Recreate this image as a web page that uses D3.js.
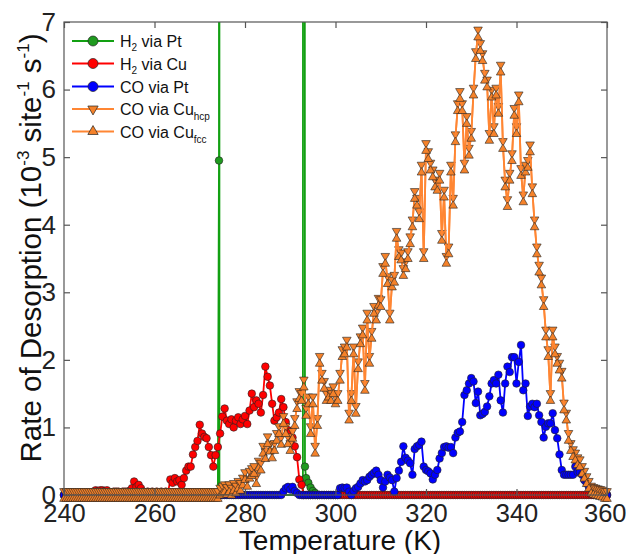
<!DOCTYPE html>
<html><head><meta charset="utf-8">
<script src="https://cdn.jsdelivr.net/npm/d3@7"></script>
<style>body{margin:0;background:#fff;} svg{display:block;font-family:Arial,"Liberation Sans",sans-serif;}</style>
</head><body><svg id="c" width="626" height="554"></svg>
<script>
// Temperature grid (K)
const temperature = [
240,240.5,241,241.5,242,242.5,243,243.5,244,244.5,
245,245.5,246,246.5,247,247.5,248,248.5,249,249.5,
250,250.5,251,251.5,252,252.5,253,253.5,254,254.5,
255,255.5,256,256.5,257,257.5,258,258.5,259,259.5,
260,260.5,261,261.5,262,262.5,263,263.5,264,264.5,
265,265.5,266,266.5,267,267.5,268,268.5,269,269.5,
270,270.5,271,271.5,272,272.5,273,273.5,274,274.5,
275,275.5,276,276.5,277,277.5,278,278.5,279,279.5,
280,280.5,281,281.5,282,282.5,283,283.5,284,284.5,
285,285.5,286,286.5,287,287.5,288,288.5,289,289.5,
290,290.5,291,291.5,292,292.5,293,293.5,294,294.5,
295,295.5,296,296.5,297,297.5,298,298.5,299,299.5,
300,300.5,301,301.5,302,302.5,303,303.5,304,304.5,
305,305.5,306,306.5,307,307.5,308,308.5,309,309.5,
310,310.5,311,311.5,312,312.5,313,313.5,314,314.5,
315,315.5,316,316.5,317,317.5,318,318.5,319,319.5,
320,320.5,321,321.5,322,322.5,323,323.5,324,324.5,
325,325.5,326,326.5,327,327.5,328,328.5,329,329.5,
330,330.5,331,331.5,332,332.5,333,333.5,334,334.5,
335,335.5,336,336.5,337,337.5,338,338.5,339,339.5,
340,340.5,341,341.5,342,342.5,343,343.5,344,344.5,
345,345.5,346,346.5,347,347.5,348,348.5,349,349.5,
350,350.5,351,351.5,352,352.5,353,353.5,354,354.5,
355,355.5,356,356.5,357,357.5,358,358.5,359,359.5,
360];

// H2 via Cu
const h2ViaCu = [
0,0,0,0,0,0,0,0,0,0,
0,0,0,0.05,0.07,0.06,0.07,0.07,0.06,0.07,
0,0.02,0.05,0.05,0.05,0.04,0.05,0.05,0.05,0.06,
0.1,0.2,0.12,0.15,0.1,0.05,0.04,0.05,0.04,0.05,
0.04,0.05,0.04,0.05,0.04,0.05,0.04,0.23,0.18,0.25,
0.2,0.22,0.15,0.25,0.36,0.42,0.42,0.6,0.71,0.8,
1.04,0.91,0.86,0.84,0.71,0.59,0.42,0.59,0.71,0.91,
1.16,1.28,1.1,1.05,1.12,1.0,1.1,1.15,1.05,1.12,
1.17,1.05,1.25,1.5,1.3,1.4,1.35,1.22,1.48,1.9,
1.75,1.62,1.35,1.1,1.15,1.22,1.42,1.3,1.08,0.96,
0.92,0.85,0.72,0.56,0.23,0.15,0,0,0,0,
0,0,0,0,0,0,0,0,0,0,
0,0,0,0,0,0,0,0,0,0,
0,0,0,0,0,0,0,0,0,0,
0,0,0,0,0,0,0,0,0,0,
0,0,0,0,0,0,0,0,0,0,
0,0,0,0,0,0,0,0,0,0,
0,0,0,0,0,0,0,0,0,0,
0,0,0,0,0,0,0,0,0,0,
0,0,0,0,0,0,0,0,0,0,
0,0,0,0,0,0,0,0,0,0,
0,0,0,0,0,0,0,0,0,0,
0,0,0,0,0,0,0,0,0,0,
0,0,0,0,0,0,0,0,0,0,
0];

// CO via Pt
const coViaPt = [
0,0,0,0,0,0,0,0,0,0,
0,0,0,0,0,0,0,0,0,0,
0,0,0,0,0,0,0,0,0,0,
0,0,0,0,0,0,0,0,0,0,
0,0,0,0,0,0,0,0,0,0,
0,0,0,0,0,0,0,0,0,0,
0,0,0,0,0,0,0,0,0,0,
0,0,0,0,0,0,0,0,0,0,
0,0,0,0,0,0,0,0,0,0,
0,0,0,0,0,0,0,0.05,0.1,0.12,
0.08,0.12,0.06,0.03,0,0,0,0,0,0,
0,0,0,0,0,0,0,0,0,0,
0,0,0.1,0.11,0.1,0.11,0.05,0,0.06,0.1,
0.12,0.17,0.22,0.2,0.22,0.27,0.3,0.33,0.36,0.3,
0.22,0.11,0.2,0.3,0.26,0.22,0.05,0.25,0.36,0.49,
0.72,0.55,0.51,0.47,0.3,0.68,0.72,0.74,0.79,0.42,
0.37,0.35,0.32,0.23,0.3,0.37,0.54,0.62,0.71,0.72,
0.7,0.71,0.62,0.85,0.92,0.94,1.08,1.48,1.55,1.65,
1.73,1.68,1.36,1.53,1.18,1.2,1.23,1.31,1.46,1.65,
1.7,1.65,1.78,1.4,1.22,1.65,1.9,1.82,2.04,2.04,
1.65,1.97,2.22,1.55,1.65,1.17,1.31,1.35,1.3,1.35,
1.18,1.08,0.85,1.01,1.06,1.06,1.21,0.96,0.84,0.6,
0.37,0.3,0.3,0.3,0.3,0.3,0.42,0.34,0.34,0.3,
0.22,0.17,0.12,0.1,0.05,0,0,0,0,0,
0];

// CO via Cu (hcp); the fcc curve coincides with it in the figure
const coViaCuHcp = [
0,0,0,0,0,0,0,0,0,0,
0,0,0,0,0,0,0,0,0,0,
0,0,0,0,0,0,0,0,0,0,
0,0,0,0,0,0,0,0,0,0,
0,0,0,0,0,0,0,0,0,0,
0,0,0,0,0,0,0,0,0,0,
0,0,0,0,0,0,0,0,0,0.05,
0.08,0.1,0.06,0.1,0.05,0.12,0.08,0.15,0.12,0.2,
0.28,0.18,0.3,0.34,0.37,0.22,0.45,0.42,0.67,0.59,
0.81,0.7,0.6,0.71,0.86,0.96,0.8,1.11,0.96,0.81,
0.71,0.89,1.08,1.33,1.48,1.45,1.65,1.23,1.4,0.96,
1.4,0.67,1.08,2.0,1.75,1.63,1.45,1.5,1.45,1.55,
1.4,1.45,1.75,2.1,2.14,2.24,1.16,1.45,2.14,1.26,
1.92,2.29,2.42,1.6,2.64,2.0,2.37,2.74,2.64,2.86,
2.84,3.33,3.48,3.18,2.64,3.13,3.2,3.85,3.58,3.53,
3.3,3.4,3.55,3.77,4.02,4.44,4.34,4.14,4.83,3.55,
5.15,5.03,4.86,4.76,4.61,4.56,4.71,3.82,4.46,3.48,
3.62,4.83,4.34,5.28,5.74,5.92,5.74,4.86,5.55,5.08,
5.33,5.97,6.51,6.83,6.63,6.48,6.19,6.09,5.3,5.94,
5.4,5.97,5.7,6.31,5.18,4.61,4.32,4.71,5.0,5.67,
5.4,5.87,4.78,4.39,4.83,4.9,5.13,4.51,4.02,3.62,
3.35,3.16,2.84,2.39,2.1,1.45,2.39,2.14,2.0,1.9,
1.78,1.31,1.16,0.86,0.71,0.62,0.57,0.5,0.47,0.37,
0.3,0.22,0.15,0.08,0.06,0.05,0.04,0.03,0.02,0,
0];
const coViaCuFcc = coViaCuHcp;

// H2 via Pt (sparse: two spikes that run off the top of the axes)
const h2PtTemperature = [240,274,274.25,274.3,274.35,292.8,292.9,293.25,293.5,294,294.5,295,295.5,296,360];
const h2ViaPt = [0,0,4.95,80,0,0,80,0.42,0.25,0.18,0.11,0.06,0.03,0,0];

const xTicks = [240,260,280,300,320,340,360];
const yTicks = [0,1,2,3,4,5,6,7];
const legendLabels = ["H2 via Pt","H2 via Cu","CO via Pt","CO via Cu hcp","CO via Cu fcc"];

const svg = d3.select("#c");
const L=64,R=607,T=22,B=495;
const x = d3.scaleLinear().domain([240,360]).range([L,R]);
const y = d3.scaleLinear().domain([0,7]).range([B,T]);

const defs = svg.append("defs");
defs.append("clipPath").attr("id","clipL")
  .append("rect").attr("x",L-6).attr("y",T).attr("width",R-L+12).attr("height",B-T+8);
defs.append("clipPath").attr("id","clipM")
  .append("rect").attr("x",L-8).attr("y",T-8).attr("width",R-L+16).attr("height",B-T+16);

const series = [
  {t:h2PtTemperature, v:h2ViaPt, line:"#12a012", fill:"#1f9a1f", shape:"circle"},
  {t:temperature, v:h2ViaCu, line:"#ff0000", fill:"#ff0000", shape:"circle"},
  {t:temperature, v:coViaPt, line:"#0000ff", fill:"#0000ff", shape:"circle"},
  {t:temperature, v:coViaCuHcp, line:"#ff8633", fill:"#f5822a", shape:"down"},
  {t:temperature, v:coViaCuFcc, line:"#ff8633", fill:"#f5822a", shape:"up"}
];

const lineGen = d3.line().x(d=>x(d[0])).y(d=>y(d[1]));
// data-marker triangles: tips meet at the data point (hourglass look when both overlap)
const triUpData = "M0,-1L4.3,6.4L-4.3,6.4Z";
const triDownData = "M0,1L4.3,-6.4L-4.3,-6.4Z";
const triUpLeg = d3.symbol().type(d3.symbolTriangle).size(46)();

series.forEach(s=>{
  const pts = s.t.map((t,i)=>[t,s.v[i]]);
  const g = svg.append("g");
  g.append("path").attr("d",lineGen(pts)).attr("fill","none")
    .attr("stroke",s.line).attr("stroke-width",1.8).attr("stroke-linejoin","round")
    .attr("clip-path","url(#clipL)");
  const mg = g.append("g").attr("clip-path","url(#clipM)");
  pts.filter(p=>p[1]<=7.5).forEach(p=>{
    const m = mg.append("g").attr("transform",`translate(${x(p[0])},${y(p[1])})`);
    let el;
    if(s.shape==="circle") el = m.append("circle").attr("r",3.8);
    else el = m.append("path").attr("d", s.shape==="up"?triUpData:triDownData);
    el.attr("fill",s.fill).attr("stroke","#222").attr("stroke-width",0.6);
  });
});

// frame
svg.append("rect").attr("x",L).attr("y",T).attr("width",R-L).attr("height",B-T)
  .attr("fill","none").attr("stroke","#555").attr("stroke-width",1.2);

const axisColor="#555";
function styleAxis(g){ g.select(".domain").remove(); g.selectAll(".tick line").attr("stroke",axisColor).attr("stroke-width",1.2);
  g.selectAll("text").attr("fill","#222").style("font-family","Arial, 'Liberation Sans', sans-serif"); }

const xb = svg.append("g").attr("transform",`translate(0,${B})`)
  .call(d3.axisBottom(x).tickValues(xTicks).tickSizeInner(-6).tickSizeOuter(0).tickPadding(9).tickFormat(d3.format("d")))
  .call(styleAxis);
xb.selectAll("text").style("font-size","25.5px");
// keep the last label inside the canvas
xb.selectAll(".tick").filter(d=>d===360).select("text").attr("text-anchor","end").attr("dx","19px");
svg.append("g").attr("transform",`translate(0,${T})`)
  .call(d3.axisTop(x).tickValues(xTicks).tickSizeInner(-6).tickSizeOuter(0).tickFormat(""))
  .call(styleAxis);
svg.append("g").attr("transform",`translate(${L},0)`)
  .call(d3.axisLeft(y).tickValues(yTicks).tickSizeInner(-6).tickSizeOuter(0).tickPadding(8).tickFormat(d3.format("d")))
  .call(styleAxis).selectAll("text").style("font-size","26px");
svg.append("g").attr("transform",`translate(${R},0)`)
  .call(d3.axisRight(y).tickValues(yTicks).tickSizeInner(-6).tickSizeOuter(0).tickFormat(""))
  .call(styleAxis);

// axis titles
svg.append("text").attr("x",340).attr("y",550).attr("text-anchor","middle")
  .style("font-size","28px").attr("fill","#111").text("Temperature (K)");
const yt = svg.append("text").attr("transform","translate(41,248) rotate(-90)")
  .attr("text-anchor","middle").style("font-size","29.5px").attr("fill","#111");
yt.append("tspan").text("Rate of Desorption (10");
yt.append("tspan").attr("dy",-12).style("font-size","17px").text("-3");
yt.append("tspan").attr("dy",12).text(" site");
yt.append("tspan").attr("dy",-12).style("font-size","17px").text("-1");
yt.append("tspan").attr("dy",12).text(" s");
yt.append("tspan").attr("dy",-12).style("font-size","17px").text("-1");
yt.append("tspan").attr("dy",12).text(")");

// legend
const legY = [41,63.5,86.5,109,131.5];
series.forEach((s,i)=>{
  const g = svg.append("g").attr("transform",`translate(0,${legY[i]})`);
  g.append("line").attr("x1",72).attr("x2",114).attr("stroke",s.line).attr("stroke-width",1.8);
  const m = g.append("g").attr("transform","translate(93,0)");
  let el;
  if(s.shape==="circle") el = m.append("circle").attr("r",5);
  else { el = m.append("path").attr("d",triUpLeg); if(s.shape==="down") el.attr("transform","rotate(180)"); }
  el.attr("fill",s.fill).attr("stroke","#222").attr("stroke-width",0.7);
  const t = g.append("text").attr("x",120).attr("y",6).style("font-size","16px").attr("fill","#111");
  const lab = legendLabels[i];
  if(lab.startsWith("H2")){
    t.append("tspan").text("H");
    t.append("tspan").attr("dy",4).style("font-size","10px").text("2");
    t.append("tspan").attr("dy",-4).text(lab.slice(2));
  } else if(lab.indexOf("Cu ")>=0){
    const parts = lab.split(" ");
    t.append("tspan").text(parts.slice(0,3).join(" "));
    t.append("tspan").attr("dy",5).style("font-size","10px").text(parts[3]);
  } else {
    t.text(lab);
  }
});
</script></body></html>
